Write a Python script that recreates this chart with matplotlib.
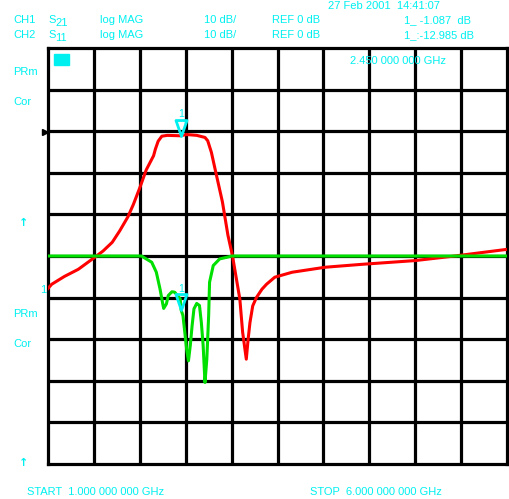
import numpy as np
import matplotlib
matplotlib.use("Agg")
import matplotlib.pyplot as plt
from matplotlib.path import Path

# ---- trace data (frequency in GHz, magnitude in dB) ----
s21_freq = [1.00, 1.04, 1.18, 1.33, 1.51, 1.60, 1.70, 1.78, 1.87, 1.93, 2.00, 2.07,
            2.15, 2.17, 2.20, 2.24, 2.30, 2.44, 2.51, 2.62, 2.71, 2.74, 2.78, 2.82,
            2.90, 2.96, 3.01, 3.09, 3.12, 3.16, 3.18, 3.20, 3.23, 3.27, 3.33, 3.38,
            3.47, 3.66, 4.02, 4.42, 5.00, 5.43, 6.00]
s21_db = [-37.8, -36.8, -34.9, -33.2, -30.3, -28.8, -26.7, -24.0, -20.6, -17.6, -13.6, -9.3,
          -5.9, -4.3, -2.4, -1.2, -1.0, -1.1, -0.8, -1.0, -1.5, -2.3, -5.1, -9.1,
          -17.0, -25.0, -30.0, -40.4, -48.3, -54.8, -50.0, -46.0, -42.0, -40.0, -38.0, -36.8,
          -35.1, -33.9, -32.7, -32.0, -31.1, -30.0, -28.4]

s11_freq = [1.00, 2.02, 2.04, 2.13, 2.18, 2.22, 2.25, 2.26, 2.29, 2.31, 2.35, 2.38,
            2.44, 2.45, 2.47, 2.49, 2.51, 2.53, 2.55, 2.57, 2.59, 2.62, 2.65, 2.67,
            2.69, 2.71, 2.73, 2.75, 2.76, 2.80, 2.87, 2.95, 3.00, 6.00]
s11_db = [0.0, 0.0, -0.3, -1.5, -3.9, -7.9, -11.5, -12.6, -11.5, -9.5, -8.6, -8.7,
          -10.3, -12.985, -14.3, -18.3, -22.4, -25.2, -21.5, -16.7, -12.7, -11.4, -11.9, -15.9,
          -21.5, -30.4, -24.8, -14.3, -6.3, -2.3, -0.7, -0.3, 0.0, 0.0]

marker_freq = 2.45
marker_s21 = -1.087
marker_s11 = -12.985

start_ghz, stop_ghz = 1.0, 6.0

W, H = 509, 499
CYAN = "#00f0f0"
plt.rcParams["font.family"] = ["Liberation Sans", "DejaVu Sans"]

fig = plt.figure(figsize=(W / 100, H / 100), dpi=100)
fig.patch.set_facecolor("white")

left, right, top, bottom = 48, 507, 48, 464
ax = fig.add_axes([left / W, 1 - bottom / H, (right - left) / W, (bottom - top) / H])
ax.set_xlim(start_ghz, stop_ghz)
ax.set_ylim(-80, 20)          # CH1: ref 0 dB, 10 dB/div
ax.set_xticks(np.arange(1.5, 6.0, 0.5))
ax.set_yticks(np.arange(-70, 20, 10))
ax.grid(True, color="black", linewidth=2.3, zorder=0)
ax.tick_params(length=0, labelbottom=False, labelleft=False)
for sp in ax.spines.values():
    sp.set_linewidth(2.3)
    sp.set_color("black")

ax2 = ax.twinx()
ax2.set_ylim(-50, 50)         # CH2: ref 0 dB, 10 dB/div
ax2.tick_params(length=0, labelright=False)
for sp in ax2.spines.values():
    sp.set_visible(False)

ax.plot(s21_freq, s21_db, color="#ff0000", linewidth=2.2, zorder=3,
        solid_joinstyle="round")
ax2.plot(s11_freq, s11_db, color="#00e000", linewidth=2.2, zorder=3,
         solid_joinstyle="round")

# marker triangles, tip at the marked point
tri = Path([(0, 0), (-5.5, 16), (5.5, 16), (0, 0)],
           [Path.MOVETO, Path.LINETO, Path.LINETO, Path.CLOSEPOLY])
ax.plot([marker_freq], [marker_s21], marker=tri, markersize=23, markerfacecolor="none",
        markeredgecolor=CYAN, markeredgewidth=2.0, zorder=5, clip_on=False)
ax2.plot([marker_freq], [marker_s11], marker=tri, markersize=23, markerfacecolor="none",
         markeredgecolor=CYAN, markeredgewidth=2.0, zorder=5, clip_on=False)


def ftext(x, y, s, **kw):
    kw.setdefault("color", CYAN)
    kw.setdefault("fontsize", 8)
    kw.setdefault("va", "center")
    kw.setdefault("ha", "left")
    fig.text(x / W, 1 - y / H, s, **kw)


ftext(181, 114, "1", ha="center", fontsize=7.5)
ftext(181, 289, "1", ha="center", fontsize=7.5)

# header
ftext(328, 6, "27 Feb 2001  14:41:07")
ftext(13, 20, "CH1")
ftext(48, 20, "S")
ftext(55, 23, "21")
ftext(100, 20, "log MAG")
ftext(204, 20, "10 dB/")
ftext(272, 20, "REF 0 dB")
ftext(404, 20, "1_ -1.087  dB")
ftext(13, 35, "CH2")
ftext(48, 35, "S")
ftext(55, 38, "11")
ftext(100, 35, "log MAG")
ftext(204, 35, "10 dB/")
ftext(272, 35, "REF 0 dB")
ftext(404, 35, "1_:-12.985 dB")

ftext(350, 61, "2.450 000 000 GHz")

# left annotations
ftext(13, 72, "PRm")
ftext(13, 102, "Cor")
ftext(13, 314, "PRm")
ftext(13, 344, "Cor")
ftext(40, 290, "1")
ftext(24, 223, "\u2191", ha="center", fontweight="bold", family="DejaVu Sans", fontsize=8)
ftext(24, 463, "\u2191", ha="center", fontweight="bold", family="DejaVu Sans", fontsize=8)

# soft-key box and reference pointer
fig.patches.append(plt.Rectangle((54 / W, 1 - 65 / H), 15 / W, 11 / H,
                                 transform=fig.transFigure, color=CYAN, zorder=6))
fig.lines.append(plt.Line2D([44.5 / W], [1 - 132 / H], marker=">", markersize=5,
                            color="black", transform=fig.transFigure))

# footer
ftext(27, 492, "START  1.000 000 000 GHz")
ftext(310, 492, "STOP  6.000 000 000 GHz")

fig.savefig("out.png", dpi=100, facecolor="white")
